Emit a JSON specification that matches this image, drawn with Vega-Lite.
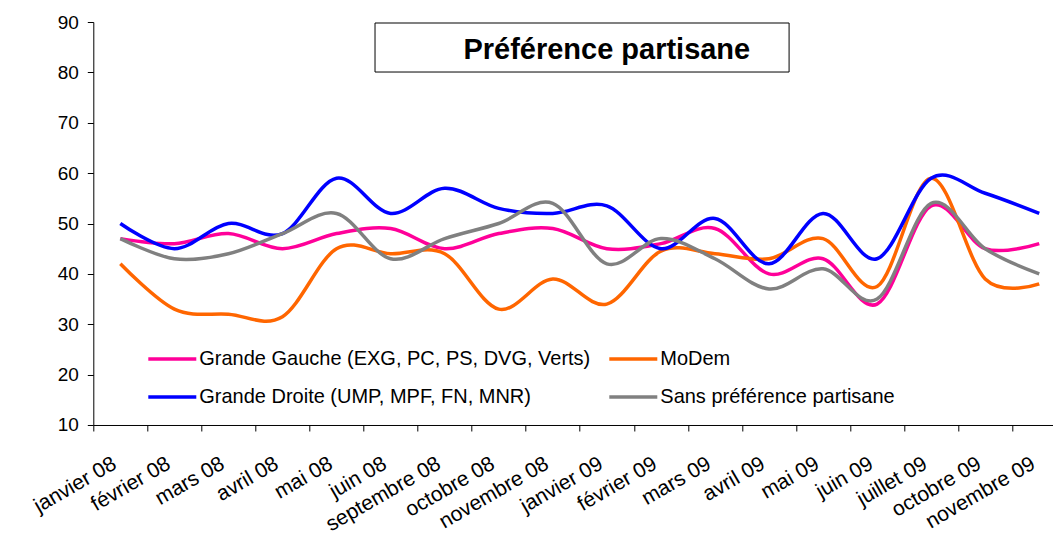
{
  "$schema": "https://vega.github.io/schema/vega-lite/v6.json",
  "width": 960,
  "height": 403,
  "autosize": {"type": "none"},
  "padding": {"left": 93.3, "top": 22, "right": 0, "bottom": 115},
  "background": "white",
  "config": {
    "view": {"stroke": null},
    "font": "Liberation Sans",
    "axis": {"domainColor": "#000", "tickColor": "#000", "labelColor": "#000", "labelFont": "Liberation Sans", "labelFontSize": 19, "grid": false, "title": null, "tickSize": 6, "domainWidth": 1, "tickWidth": 1}
  },
  "datasets": {
    "sondage": [
      {"i": 0, "mois": "janvier 08", "serie": "Grande Gauche (EXG, PC, PS, DVG, Verts)", "valeur": 47},
      {"i": 1, "mois": "février 08", "serie": "Grande Gauche (EXG, PC, PS, DVG, Verts)", "valeur": 46},
      {"i": 2, "mois": "mars 08", "serie": "Grande Gauche (EXG, PC, PS, DVG, Verts)", "valeur": 48},
      {"i": 3, "mois": "avril 08", "serie": "Grande Gauche (EXG, PC, PS, DVG, Verts)", "valeur": 45},
      {"i": 4, "mois": "mai 08", "serie": "Grande Gauche (EXG, PC, PS, DVG, Verts)", "valeur": 48},
      {"i": 5, "mois": "juin 08", "serie": "Grande Gauche (EXG, PC, PS, DVG, Verts)", "valeur": 49},
      {"i": 6, "mois": "septembre 08", "serie": "Grande Gauche (EXG, PC, PS, DVG, Verts)", "valeur": 45},
      {"i": 7, "mois": "octobre 08", "serie": "Grande Gauche (EXG, PC, PS, DVG, Verts)", "valeur": 48},
      {"i": 8, "mois": "novembre 08", "serie": "Grande Gauche (EXG, PC, PS, DVG, Verts)", "valeur": 49},
      {"i": 9, "mois": "janvier 09", "serie": "Grande Gauche (EXG, PC, PS, DVG, Verts)", "valeur": 45},
      {"i": 10, "mois": "février 09", "serie": "Grande Gauche (EXG, PC, PS, DVG, Verts)", "valeur": 46},
      {"i": 11, "mois": "mars 09", "serie": "Grande Gauche (EXG, PC, PS, DVG, Verts)", "valeur": 49},
      {"i": 12, "mois": "avril 09", "serie": "Grande Gauche (EXG, PC, PS, DVG, Verts)", "valeur": 40},
      {"i": 13, "mois": "mai 09", "serie": "Grande Gauche (EXG, PC, PS, DVG, Verts)", "valeur": 43},
      {"i": 14, "mois": "juin 09", "serie": "Grande Gauche (EXG, PC, PS, DVG, Verts)", "valeur": 34},
      {"i": 15, "mois": "juillet 09", "serie": "Grande Gauche (EXG, PC, PS, DVG, Verts)", "valeur": 53.5},
      {"i": 16, "mois": "octobre 09", "serie": "Grande Gauche (EXG, PC, PS, DVG, Verts)", "valeur": 45},
      {"i": 17, "mois": "novembre 09", "serie": "Grande Gauche (EXG, PC, PS, DVG, Verts)", "valeur": 46},
      {"i": 0, "mois": "janvier 08", "serie": "MoDem", "valeur": 42},
      {"i": 1, "mois": "février 08", "serie": "MoDem", "valeur": 33},
      {"i": 2, "mois": "mars 08", "serie": "MoDem", "valeur": 32},
      {"i": 3, "mois": "avril 08", "serie": "MoDem", "valeur": 31.5},
      {"i": 4, "mois": "mai 08", "serie": "MoDem", "valeur": 45},
      {"i": 5, "mois": "juin 08", "serie": "MoDem", "valeur": 44},
      {"i": 6, "mois": "septembre 08", "serie": "MoDem", "valeur": 44},
      {"i": 7, "mois": "octobre 08", "serie": "MoDem", "valeur": 33},
      {"i": 8, "mois": "novembre 08", "serie": "MoDem", "valeur": 39},
      {"i": 9, "mois": "janvier 09", "serie": "MoDem", "valeur": 34},
      {"i": 10, "mois": "février 09", "serie": "MoDem", "valeur": 44.5},
      {"i": 11, "mois": "mars 09", "serie": "MoDem", "valeur": 44},
      {"i": 12, "mois": "avril 09", "serie": "MoDem", "valeur": 43},
      {"i": 13, "mois": "mai 09", "serie": "MoDem", "valeur": 47},
      {"i": 14, "mois": "juin 09", "serie": "MoDem", "valeur": 37.5},
      {"i": 15, "mois": "juillet 09", "serie": "MoDem", "valeur": 59},
      {"i": 16, "mois": "octobre 09", "serie": "MoDem", "valeur": 39},
      {"i": 17, "mois": "novembre 09", "serie": "MoDem", "valeur": 38},
      {"i": 0, "mois": "janvier 08", "serie": "Grande Droite (UMP, MPF, FN, MNR)", "valeur": 50},
      {"i": 1, "mois": "février 08", "serie": "Grande Droite (UMP, MPF, FN, MNR)", "valeur": 45},
      {"i": 2, "mois": "mars 08", "serie": "Grande Droite (UMP, MPF, FN, MNR)", "valeur": 50},
      {"i": 3, "mois": "avril 08", "serie": "Grande Droite (UMP, MPF, FN, MNR)", "valeur": 48},
      {"i": 4, "mois": "mai 08", "serie": "Grande Droite (UMP, MPF, FN, MNR)", "valeur": 59},
      {"i": 5, "mois": "juin 08", "serie": "Grande Droite (UMP, MPF, FN, MNR)", "valeur": 52},
      {"i": 6, "mois": "septembre 08", "serie": "Grande Droite (UMP, MPF, FN, MNR)", "valeur": 57},
      {"i": 7, "mois": "octobre 08", "serie": "Grande Droite (UMP, MPF, FN, MNR)", "valeur": 53},
      {"i": 8, "mois": "novembre 08", "serie": "Grande Droite (UMP, MPF, FN, MNR)", "valeur": 52},
      {"i": 9, "mois": "janvier 09", "serie": "Grande Droite (UMP, MPF, FN, MNR)", "valeur": 53.5},
      {"i": 10, "mois": "février 09", "serie": "Grande Droite (UMP, MPF, FN, MNR)", "valeur": 45},
      {"i": 11, "mois": "mars 09", "serie": "Grande Droite (UMP, MPF, FN, MNR)", "valeur": 51},
      {"i": 12, "mois": "avril 09", "serie": "Grande Droite (UMP, MPF, FN, MNR)", "valeur": 42},
      {"i": 13, "mois": "mai 09", "serie": "Grande Droite (UMP, MPF, FN, MNR)", "valeur": 52},
      {"i": 14, "mois": "juin 09", "serie": "Grande Droite (UMP, MPF, FN, MNR)", "valeur": 43},
      {"i": 15, "mois": "juillet 09", "serie": "Grande Droite (UMP, MPF, FN, MNR)", "valeur": 59},
      {"i": 16, "mois": "octobre 09", "serie": "Grande Droite (UMP, MPF, FN, MNR)", "valeur": 56},
      {"i": 17, "mois": "novembre 09", "serie": "Grande Droite (UMP, MPF, FN, MNR)", "valeur": 52},
      {"i": 0, "mois": "janvier 08", "serie": "Sans préférence partisane", "valeur": 47},
      {"i": 1, "mois": "février 08", "serie": "Sans préférence partisane", "valeur": 43},
      {"i": 2, "mois": "mars 08", "serie": "Sans préférence partisane", "valeur": 44},
      {"i": 3, "mois": "avril 08", "serie": "Sans préférence partisane", "valeur": 48},
      {"i": 4, "mois": "mai 08", "serie": "Sans préférence partisane", "valeur": 52},
      {"i": 5, "mois": "juin 08", "serie": "Sans préférence partisane", "valeur": 43},
      {"i": 6, "mois": "septembre 08", "serie": "Sans préférence partisane", "valeur": 47},
      {"i": 7, "mois": "octobre 08", "serie": "Sans préférence partisane", "valeur": 50},
      {"i": 8, "mois": "novembre 08", "serie": "Sans préférence partisane", "valeur": 54},
      {"i": 9, "mois": "janvier 09", "serie": "Sans préférence partisane", "valeur": 42},
      {"i": 10, "mois": "février 09", "serie": "Sans préférence partisane", "valeur": 47},
      {"i": 11, "mois": "mars 09", "serie": "Sans préférence partisane", "valeur": 43},
      {"i": 12, "mois": "avril 09", "serie": "Sans préférence partisane", "valeur": 37},
      {"i": 13, "mois": "mai 09", "serie": "Sans préférence partisane", "valeur": 41},
      {"i": 14, "mois": "juin 09", "serie": "Sans préférence partisane", "valeur": 35},
      {"i": 15, "mois": "juillet 09", "serie": "Sans préférence partisane", "valeur": 54},
      {"i": 16, "mois": "octobre 09", "serie": "Sans préférence partisane", "valeur": 45},
      {"i": 17, "mois": "novembre 09", "serie": "Sans préférence partisane", "valeur": 40}
    ]
  },
  "layer": [
    {
      "data": {"name": "sondage"},
      "mark": {"type": "line", "interpolate": "cardinal", "tension": 0, "strokeWidth": 3.5},
      "encoding": {
        "x": {
          "field": "i", "type": "quantitative",
          "scale": {"domain": [-0.5, 17.26], "nice": false, "zero": false},
          "axis": {
            "values": [0, 1, 2, 3, 4, 5, 6, 7, 8, 9, 10, 11, 12, 13, 14, 15, 16, 17],
            "tickOffset": -27.03,
            "labelOffset": 21,
            "labelAngle": -30,
            "labelAlign": "right",
            "labelBaseline": "middle",
            "labelPadding": 31,
            "labelFontSize": 21,
            "labelOverlap": false,
            "labelBound": false,
            "labelFlush": false,
            "labelExpr": "['janvier 08','février 08','mars 08','avril 08','mai 08','juin 08','septembre 08','octobre 08','novembre 08','janvier 09','février 09','mars 09','avril 09','mai 09','juin 09','juillet 09','octobre 09','novembre 09'][datum.value]"
          }
        },
        "y": {
          "field": "valeur", "type": "quantitative",
          "scale": {"domain": [10, 90], "nice": false, "zero": false},
          "axis": {"values": [10, 20, 30, 40, 50, 60, 70, 80, 90], "labelPadding": 9}
        },
        "color": {
          "field": "serie", "type": "nominal",
          "sort": ["Grande Gauche (EXG, PC, PS, DVG, Verts)", "MoDem", "Grande Droite (UMP, MPF, FN, MNR)", "Sans préférence partisane"],
          "scale": {
            "domain": ["Grande Gauche (EXG, PC, PS, DVG, Verts)", "MoDem", "Grande Droite (UMP, MPF, FN, MNR)", "Sans préférence partisane"],
            "range": ["#FF0099", "#FF6600", "#0000FF", "#808080"]
          },
          "legend": {
            "title": null,
            "orient": "none",
            "legendX": 53,
            "legendY": 311,
            "columns": 2,
            "direction": "horizontal",
            "symbolType": "stroke",
            "symbolSize": 2304,
            "symbolStrokeWidth": 3.5,
            "labelFont": "Liberation Sans",
            "labelFontSize": 20,
            "labelColor": "#000",
            "labelOffset": 1,
            "labelLimit": 0,
            "columnPadding": 11,
            "rowPadding": 2,
            "padding": 0
          }
        }
      }
    },
    {
      "data": {"values": [{"titre": "Préférence partisane"}]},
      "mark": {"type": "rect", "fill": "white", "stroke": "#000", "strokeWidth": 1},
      "encoding": {
        "x": {"datum": 4.712, "type": "quantitative"},
        "x2": {"datum": 12.372},
        "y": {"datum": 89.8, "type": "quantitative"},
        "y2": {"datum": 80.07}
      }
    },
    {
      "data": {"values": [{"titre": "Préférence partisane"}]},
      "mark": {"type": "text", "font": "Liberation Sans", "fontWeight": "bold", "fontSize": 29, "color": "#000", "align": "center", "baseline": "alphabetic"},
      "encoding": {
        "x": {"datum": 9.0, "type": "quantitative"},
        "y": {"datum": 82.65, "type": "quantitative"},
        "text": {"field": "titre"}
      }
    }
  ]
}
